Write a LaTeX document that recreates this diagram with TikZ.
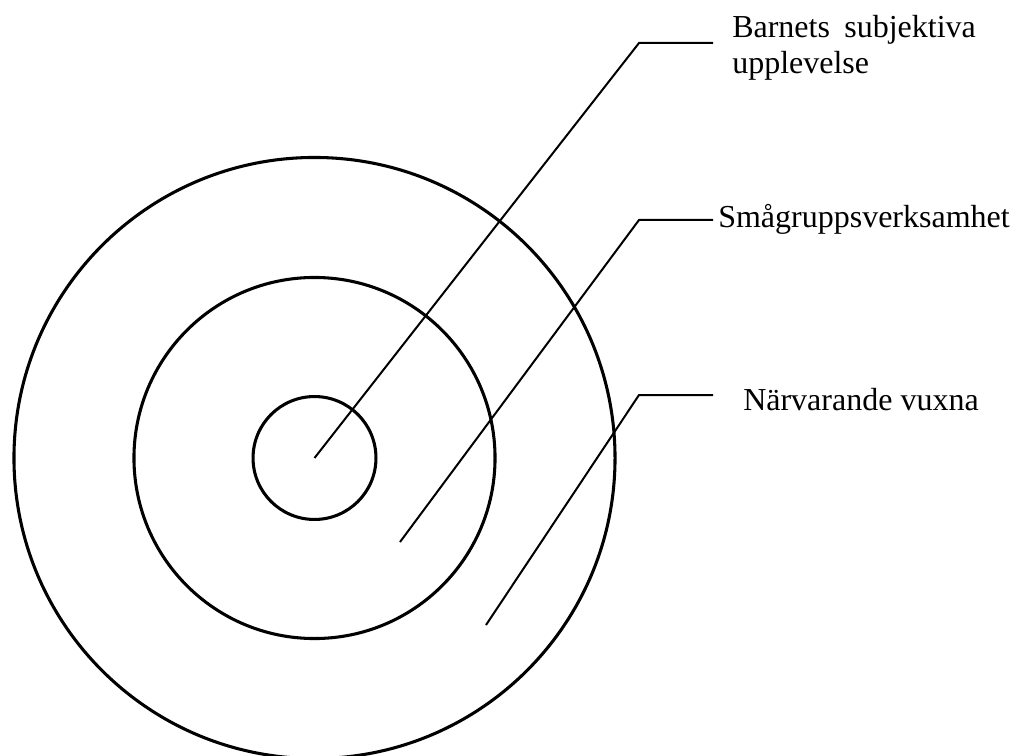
\documentclass[tikz,border=0pt]{standalone}
\usepackage{fontspec}
\setmainfont{Liberation Serif}
\begin{document}
\begin{tikzpicture}[x=0.75pt, y=-0.75pt, font=\fontsize{24}{23.3}\selectfont]
                        \useasboundingbox (0,0) rectangle (1021,756);
                        \coordinate (c) at (314.5,458);
                        \draw[line width=2.3pt] (c) circle[radius=225.4pt];
                        \draw[line width=2.3pt] (c) circle[radius=135.4pt];
                        \draw[line width=2.3pt] (c) circle[radius=46.1pt];
                        \coordinate (s2) at (400,542);
                        \coordinate (s3) at (486,625);
                        \coordinate (k1) at (639,43);
                        \coordinate (k2) at (639,220);
                        \coordinate (k3) at (639,395);
                        \coordinate (e1) at (713,43);
                        \coordinate (e2) at (713,220);
                        \coordinate (e3) at (713,395);
                        \draw[line width=1.5pt] (c) -- (k1) -- (e1);
                        \draw[line width=1.5pt] (s2) -- (k2) -- (e2);
                        \draw[line width=1.5pt] (s3) -- (k3) -- (e3);
                        \node (bsu) at (732,15) [anchor=north west, inner sep=0, align=left] {Barnets\hspace{0.2em} subjektiva\\[4pt]upplevelse};
                        \node (smg) at (718,228) [anchor=base west, inner sep=0] {Smågruppsverksamhet};
                        \node (nvx) at (743,410) [anchor=base west, inner sep=0] {Närvarande vuxna};
                    \end{tikzpicture}
\end{document}
